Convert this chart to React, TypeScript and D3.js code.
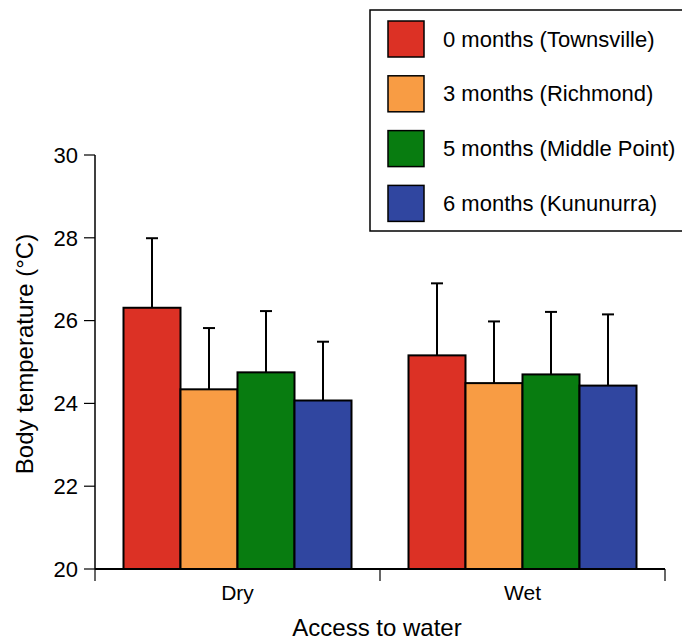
import React from 'react'
import { scaleLinear, scaleBand } from 'd3'

const groups = ['Dry', 'Wet']
const seriesNames = ['0 months (Townsville)', '3 months (Richmond)', '5 months (Middle Point)', '6 months (Kununurra)']
const colors = ['#dc3125', '#f89c44', '#087c10', '#3046a0']
const dryMeans = [26.31, 24.34, 24.75, 24.07]
const dryErrors = [1.68, 1.48, 1.48, 1.42]
const wetMeans = [25.16, 24.49, 24.70, 24.43]
const wetErrors = [1.74, 1.49, 1.51, 1.72]
const yTicks = [20, 22, 24, 26, 28, 30]

const font = '"Liberation Sans", Arial, Helvetica, sans-serif'

const App = () => {
  const width = 682
  const height = 642

  const y = scaleLinear().domain([20, 30]).range([569, 155])
  const x0 = scaleBand().domain(groups).range([95, 665])
  const x1 = scaleBand().domain(seriesNames).range([0, x0.bandwidth()]).paddingOuter(0.5)

  const means = [dryMeans, wetMeans]
  const errors = [dryErrors, wetErrors]

  const bars = groups.map((g, gi) => (
    <g key={g} transform={`translate(${x0(g)},0)`}>
      {seriesNames.map((s, si) => {
        const cx = x1(s) + x1.bandwidth() / 2
        const top = y(means[gi][si] + errors[gi][si])
        return (
          <g key={s}>
            <line x1={cx} x2={cx} y1={y(means[gi][si])} y2={top} stroke='#000' strokeWidth={2} />
            <line x1={cx - 6} x2={cx + 6} y1={top} y2={top} stroke='#000' strokeWidth={2} />
            <rect
              x={x1(s)}
              y={y(means[gi][si])}
              width={x1.bandwidth()}
              height={y(20) - y(means[gi][si])}
              fill={colors[si]}
              stroke='#000'
              strokeWidth={2}
            />
          </g>
        )
      })}
    </g>
  ))

  const yAxis = (
    <g>
      <line x1={95} x2={95} y1={y(30)} y2={y(20)} stroke='#000' strokeWidth={1.5} />
      {yTicks.map(t => (
        <g key={t}>
          <line x1={84} x2={95} y1={y(t)} y2={y(t)} stroke='#000' strokeWidth={1.2} />
          <text x={78} y={y(t)} dy='0.35em' textAnchor='end' fontSize={22} fontFamily={font}>{t}</text>
        </g>
      ))}
    </g>
  )

  const xEdges = [...groups.map(g => x0(g)), x0.range()[1]]
  const xAxis = (
    <g>
      <line x1={95} x2={665} y1={y(20)} y2={y(20)} stroke='#000' strokeWidth={2} />
      {xEdges.map((e, i) => (
        <line key={i} x1={e} x2={e} y1={y(20)} y2={y(20) + 12} stroke='#000' strokeWidth={1.2} />
      ))}
      {groups.map(g => (
        <text key={g} x={x0(g) + x0.bandwidth() / 2} y={600} textAnchor='middle' fontSize={21} fontFamily={font}>{g}</text>
      ))}
    </g>
  )

  const legend = (
    <g>
      <rect x={370} y={10} width={330} height={221} fill='#fff' stroke='#000' strokeWidth={1.5} />
      {seriesNames.map((s, i) => (
        <g key={s} transform={`translate(388,${21 + i * 54.8})`}>
          <rect width={36} height={36} fill={colors[i]} stroke='#000' strokeWidth={1.5} />
          <text x={55} y={18} dy='0.35em' fontSize={22} fontFamily={font}>{s}</text>
        </g>
      ))}
    </g>
  )

  return (
    <svg width={width} height={height} style={{ position: 'absolute', left: 0, top: 0 }}>
      {bars}
      {yAxis}
      {xAxis}
      {legend}
      <text transform='translate(33,354) rotate(-90)' textAnchor='middle' fontSize={24} fontFamily={font}>
        Body temperature (°C)
      </text>
      <text x={377} y={636} textAnchor='middle' fontSize={24} fontFamily={font}>Access to water</text>
    </svg>
  )
}

export default App
